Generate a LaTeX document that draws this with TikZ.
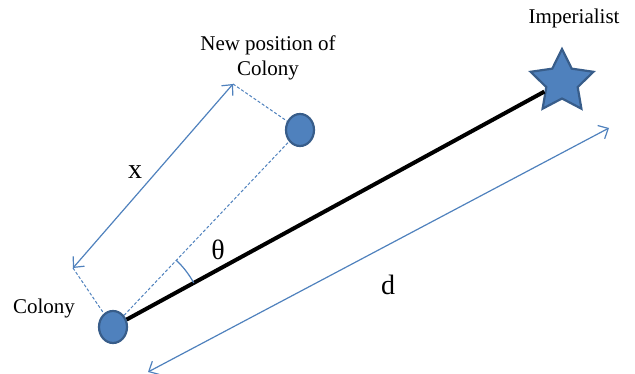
\documentclass[tikz,border=0pt]{standalone}
\usepackage{fontspec}
\setmainfont{Liberation Serif}
\usetikzlibrary{arrows.meta,angles,shapes.geometric}
\definecolor{accblue}{HTML}{4F81BD}
\definecolor{accdark}{HTML}{385D8A}
\tikzset{dot/.style={ellipse,draw=accdark,fill=accblue,line width=2.2pt,minimum width=28pt,minimum height=32pt,inner sep=0pt},
  empire/.style={star,star points=5,star point ratio=2.0,draw=accdark,fill=accblue,line width=2.2pt,minimum size=66pt,inner sep=0pt},
  lbl/.style={font=\fontsize{21}{25}\selectfont,inner sep=0pt,align=center},
  sym/.style={font=\fontsize{28}{30}\selectfont,inner sep=0pt},
  dimline/.style={draw=accblue,line width=1.2pt,{Straight Barb[length=8pt,width=15pt]}-{Straight Barb[length=8pt,width=15pt]}},
  helper/.style={draw=accblue,line width=1pt,dash pattern=on 3pt off 2pt}}

\begin{document}
\begin{tikzpicture}[x=1pt,y=1pt]
  \useasboundingbox (0,0) rectangle (635,374);
  \node (colony) [dot]    at (113,47)  {};
  \node (newpos) [dot]    at (300,244) {};
  \node (imp)    [empire] at (562,292) {};
  \coordinate (xa) at (73,106);
  \coordinate (xb) at (233,290);
  \coordinate (da) at (148,2);
  \coordinate (db) at (609,246);

  \node (colonylbl) [lbl] at (44,66)   {Colony};
  \node (newposlbl) [lbl] at (268,316) {New position of\\Colony};
  \node (implbl)    [lbl] at (574,356) {Imperialist};
  \node (xlbl)      [sym] at (135,202) {x};
  \node (thetalbl)  [sym] at (218,124) {θ};
  \node (dlbl)      [sym] at (388,89)  {d};

  \path (colony) edge[line width=4pt]  (imp)  % distance to imperialist
        (colony) edge[helper] (newpos)
        (xa)     edge[helper] (colony)
        (xb)     edge[helper] (newpos)
        (xa)     edge[dimline] (xb)
        (da)     edge[dimline] (db);
  \pic [draw=accblue,line width=1.2pt,angle radius=92pt] {angle=imp--colony--newpos};
\end{tikzpicture}
\end{document}
